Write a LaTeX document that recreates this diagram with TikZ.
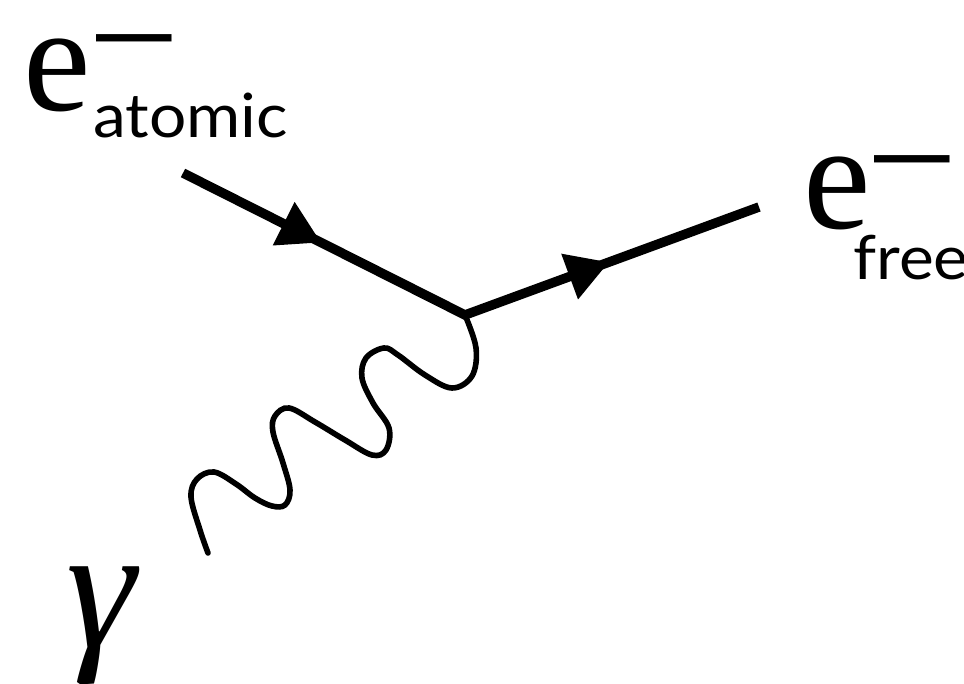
\documentclass[tikz,border=0pt]{standalone}
\usepackage{fontspec}
\setmainfont{Liberation Serif}
\newfontfamily\symserif{Liberation Serif}
\newfontfamily\labelsans[FakeStretch=1.08]{Lato}
\usetikzlibrary{arrows.meta, decorations.markings}
\tikzset{
  fermion/.style={line width=4.75pt, line join=miter,
    postaction={decorate},
    decoration={markings,
      mark=at position 0.246 with {\arrow{Triangle[length=21pt, width=23pt]}},
      mark=at position 0.746 with {\arrow{Triangle[length=21pt, width=23pt]}}}},
  photon/.style={line width=2.8pt, line cap=round},
  sym/.style={anchor=base west, inner sep=0pt, font=\fontsize{76}{76}\selectfont},
  charge/.style={anchor=base west, inner sep=0pt, font=\fontsize{73.5}{74}\selectfont},
  tag/.style={anchor=base west, inner sep=0pt, font=\fontsize{30.5}{31}\selectfont},
  gam/.style={anchor=base west, inner sep=0pt, font=\fontsize{88}{88}\selectfont},
}
\begin{document}
\begin{tikzpicture}[x=0.5pt, y=-0.5pt]
  \useasboundingbox (0,0) rectangle (964,684);

  % vertex and the free ends of the three lines
  \coordinate (ein) at (183,173);
  \coordinate (vertex) at (465,315);
  \coordinate (eout) at (759,207);
  \coordinate (gend) at (208,553);

  \draw[fermion] (ein) -- (vertex) -- (eout);
  \draw[photon] plot[smooth, tension=0.6] coordinates {
    (vertex) (476,348) (472,376) (452,388) (425,375) (398,355) (384,348)
    (366,358) (362,378) (373,403) (389,428) (386,450) (372,455) (345,440)
    (315,422) (289,408) (275,416) (273,432) (283,463) (290,490) (285,505)
    (272,506) (255,498) (236,484) (214,472) (197,479) (191,497) (200,530)
    (gend)};

  \node[sym] (eatom) at (23,111) {\symserif e};
  \node[charge] (eatomq) at (97,73) {\symserif –};
  \node[tag] (eatomtag) at (93,138) {\labelsans atomic};

  \node[sym] (efree) at (803,229) {\symserif e};
  \node[charge] (efreeq) at (875,194) {\symserif –};
  \node[tag] (efreetag) at (853,280) {\labelsans free};

  \node[gam] (gamma) at (66,647) {\symserif\itshape γ};

\end{tikzpicture}
\end{document}
